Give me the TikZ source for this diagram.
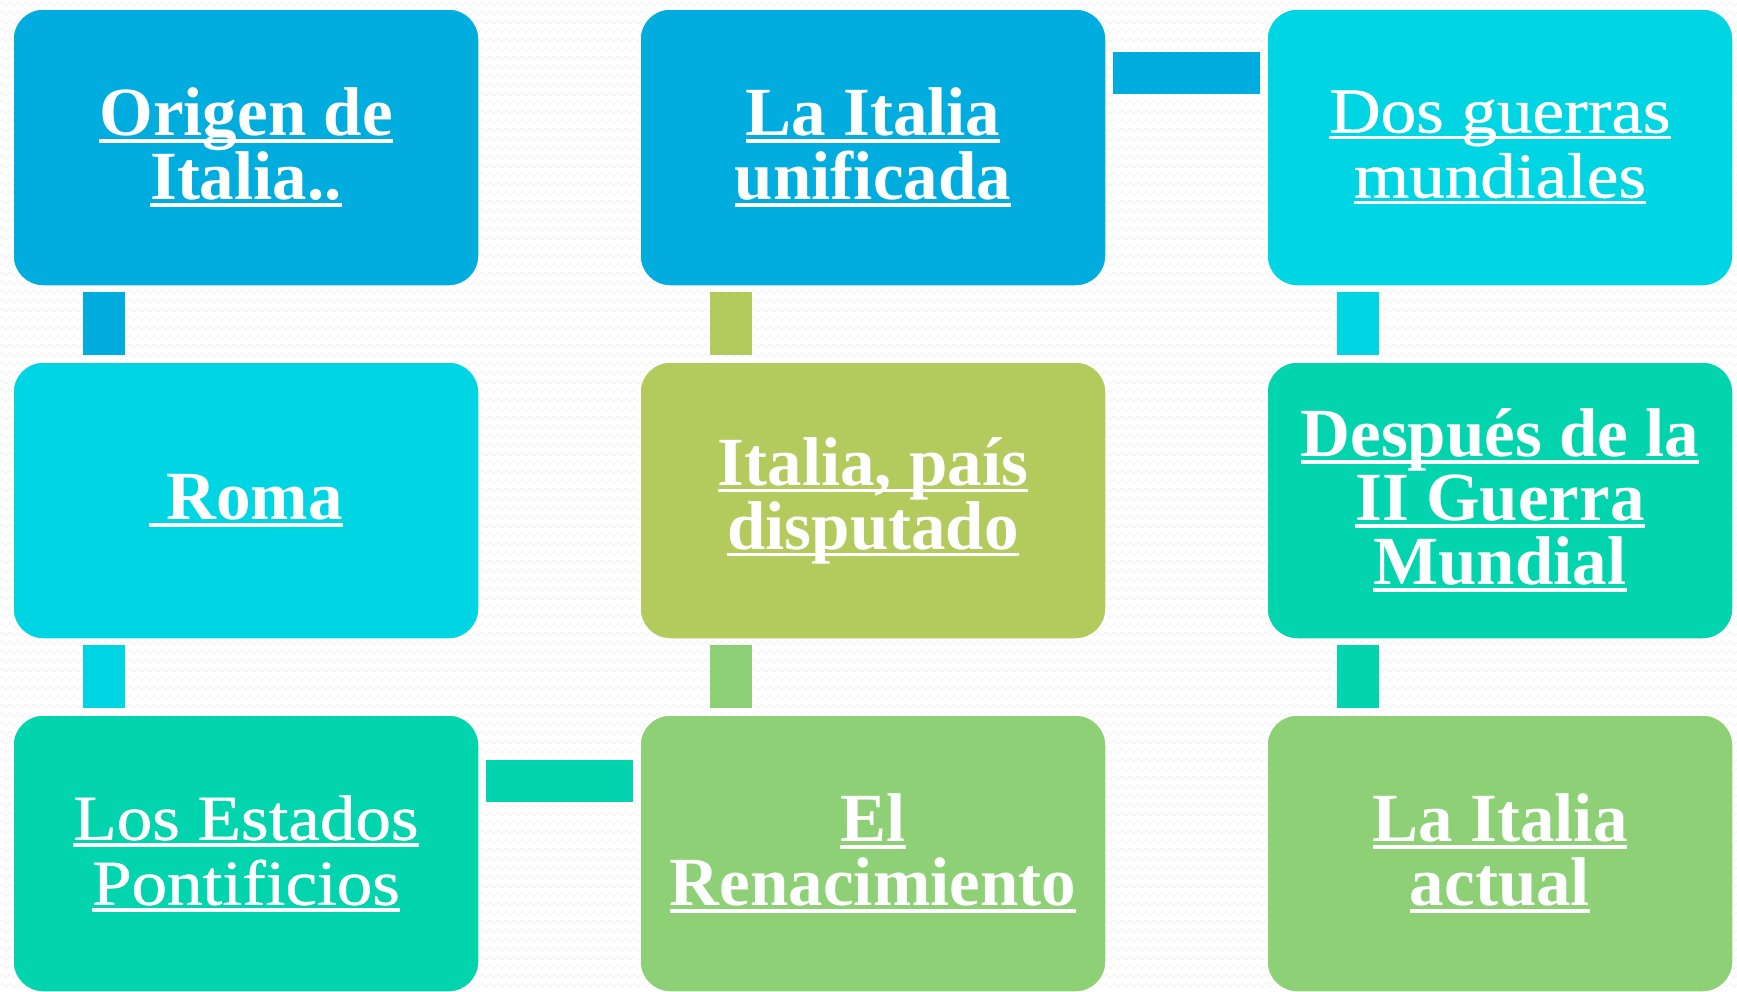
\documentclass[tikz,border=0pt]{standalone}
\usepackage{fontspec}
\setmainfont{Liberation Serif}
\newfontfamily\widereg[FakeStretch=1.11,FakeBold=0.8]{Liberation Serif}
\usetikzlibrary{decorations.pathmorphing}
\definecolor{blueA}{HTML}{00ADDE}
\definecolor{cyanB}{HTML}{00D6E3}
\definecolor{tealC}{HTML}{02D4AE}
\definecolor{oliveD}{HTML}{B3CA5C}
\definecolor{greenE}{HTML}{8ED076}
\newcommand\ulx[1]{\setbox0=\hbox{#1}\rlap{\rule[-7pt]{\wd0}{3.5pt}}\box0}
\tikzset{
  card/.style={draw=white, line width=1.5pt, fill=#1, rounded corners=30pt,
    minimum width=466pt, minimum height=277pt, inner sep=0pt, text=white,
    align=center},
  boldtxt/.style={font=\fontsize{69}{64}\selectfont\bfseries},
  regtxt/.style={font=\widereg\fontsize{64}{65}\selectfont},
  bar/.style={draw=#1, line width=42pt},
  bgzig/.style={draw=black!4, line width=1.2pt, decorate,
    decoration={zigzag, segment length=8pt, amplitude=2pt}}
}
\begin{document}
\begin{tikzpicture}[x=1pt,y=-1pt]
\useasboundingbox (0,0) rectangle (1737,991);
\fill[white] (0,0) rectangle (1737,991);
\foreach \yy in {4,13,...,991} \draw[bgzig] (0,\yy) -- (1737,\yy);

\node[card=blueA, boldtxt] (origen) at (246,147.5) {\ulx{Origen de}\\\ulx{Italia..}};
\node[card=cyanB, boldtxt] (roma) at (246,500.5) {\ulx{ Roma}};
\node[card=tealC, regtxt] (estados) at (246,853.5) {\ulx{Los Estados}\\\ulx{Pontificios}};
\node[card=greenE, boldtxt] (renac) at (873,853.5) {\ulx{El}\\\ulx{Renacimiento}};
\node[card=oliveD, boldtxt] (disput) at (873,500.5) {\ulx{Italia, país}\\\ulx{disputado}};
\node[card=blueA, boldtxt] (unif) at (873,147.5) {\ulx{La Italia}\\\ulx{unificada}};
\node[card=cyanB, regtxt] (guerras) at (1500,147.5) {\ulx{Dos guerras}\\\ulx{mundiales}};
\node[card=tealC, boldtxt] (despues) at (1500,500.5) {\ulx{Después de la}\\\ulx{II Guerra}\\\ulx{Mundial}};
\node[card=greenE, boldtxt] (actual) at (1500,853.5) {\ulx{La Italia}\\\ulx{actual}};

\draw[bar=blueA] ([xshift=92pt,yshift=-5pt]origen.south west) -- ([xshift=92pt,yshift=6pt]roma.north west);
\draw[bar=cyanB] ([xshift=92pt,yshift=-5pt]roma.south west) -- ([xshift=92pt,yshift=6pt]estados.north west);
\draw[bar=tealC] ([xshift=6pt,yshift=-67pt]estados.north east) -- ([xshift=-6pt,yshift=-67pt]renac.north west);
\draw[bar=greenE] ([xshift=92pt,yshift=6pt]renac.north west) -- ([xshift=92pt,yshift=-5pt]disput.south west);
\draw[bar=oliveD] ([xshift=92pt,yshift=6pt]disput.north west) -- ([xshift=92pt,yshift=-5pt]unif.south west);
\draw[bar=blueA] ([xshift=6pt,yshift=-65pt]unif.north east) -- ([xshift=-6pt,yshift=-65pt]guerras.north west);
\draw[bar=cyanB] ([xshift=92pt,yshift=-5pt]guerras.south west) -- ([xshift=92pt,yshift=6pt]despues.north west);
\draw[bar=tealC] ([xshift=92pt,yshift=-5pt]despues.south west) -- ([xshift=92pt,yshift=6pt]actual.north west);
\end{tikzpicture}
\end{document}
